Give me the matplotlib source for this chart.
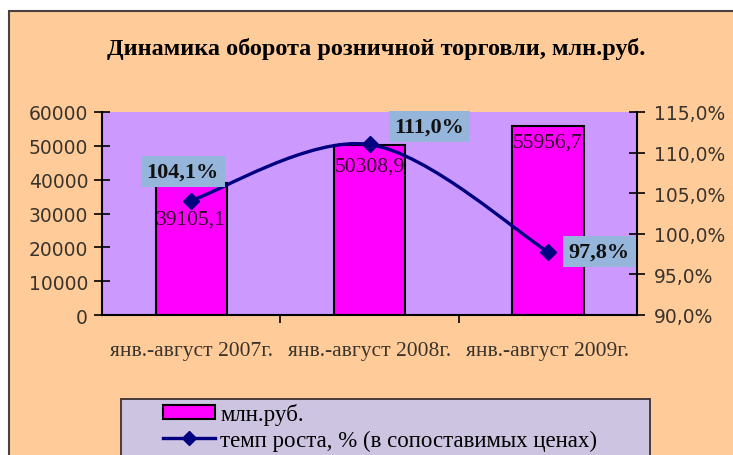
import matplotlib
matplotlib.use("Agg")
import matplotlib.pyplot as plt
from matplotlib.patches import Rectangle, PathPatch
from matplotlib.path import Path
from matplotlib.lines import Line2D
from matplotlib.ticker import FuncFormatter

# data
categories = ["янв.-август 2007г.", "янв.-август 2008г.", "янв.-август 2009г."]
turnover = [39105.1, 50308.9, 55956.7]          # млн.руб.
growth = [104.1, 111.0, 97.8]                    # темп роста, %
turnover_labels = ["39105,1", "50308,9", "55956,7"]
growth_labels = ["104,1%", "111,0%", "97,8%"]

title = "Динамика оборота розничной торговли, млн.руб."
bar_name = "млн.руб."
line_name = "темп роста, % (в сопоставимых ценах)"

# label placement (points), as in the picture
bar_label_offsets = [(0, -26), (0, -15), (0, -12)]
line_label_offsets = [(-6, 21), (43, 13), (37, 0)]

W, H = 733, 456
PEACH = "#FFCC99"
PURPLE = "#CC99FF"
MAGENTA = "#FF00FF"
NAVY = "#000080"
LBLUE = "#95B6DA"
TXT = "#3a332c"
SERIF = "Liberation Serif"


def smooth_path(xs, ys):
    """Catmull-Rom style Bezier path through the points (Excel smoothed line)."""
    pts = list(zip(xs, ys))
    verts = [pts[0]]
    codes = [Path.MOVETO]
    n = len(pts)
    for i in range(n - 1):
        p0 = pts[i - 1] if i > 0 else pts[i]
        p1 = pts[i]
        p2 = pts[i + 1]
        p3 = pts[i + 2] if i + 2 < n else pts[i + 1]
        c1 = (p1[0] + (p2[0] - p0[0]) / 6, p1[1] + (p2[1] - p0[1]) / 6)
        c2 = (p2[0] - (p3[0] - p1[0]) / 6, p2[1] - (p3[1] - p1[1]) / 6)
        verts += [c1, c2, p2]
        codes += [Path.CURVE4] * 3
    return Path(verts, codes)


fig = plt.figure(figsize=(W / 100, H / 100), dpi=100, facecolor="white")

# chart-area background with its frame, cropped on the right/bottom
fig.patches.append(Rectangle((9 / W, -0.1), 1.2, 1.1 - 12 / H, transform=fig.transFigure,
                             facecolor=PEACH, edgecolor="#4a4040", lw=1.5, zorder=-10))

fig.text(376 / W, 1 - 49 / H, title, ha="center", va="center", fontsize=17.5,
         fontweight="bold", family=SERIF, color="black")

ax = fig.add_axes([102 / W, 1 - 316 / H, 535 / W, 203 / H])
ax.set_facecolor(PURPLE)
x = list(range(len(categories)))
bars = ax.bar(x, turnover, width=0.4, color=MAGENTA, edgecolor="black", linewidth=1.5, zorder=2)
ax.set_xlim(-0.5, len(categories) - 0.5)
ax.set_ylim(0, 60000)
ax.set_yticks(range(0, 60001, 10000))
ax.tick_params(axis="y", direction="inout", length=12, width=1.2, colors="black",
               labelcolor=TXT, labelsize=13.5, pad=4)
ax.set_xticks([i + 0.5 for i in x[:-1]])
ax.set_xticklabels([])
ax.tick_params(axis="x", which="major", direction="out", length=6, width=1.2)
ax.set_xticks(x, minor=True)
ax.set_xticklabels(categories, minor=True, family=SERIF, fontsize=15.5, color=TXT)
ax.tick_params(axis="x", which="minor", length=0, pad=19)
for s in ("top", "right"):
    ax.spines[s].set_visible(False)
for s in ("left", "bottom"):
    ax.spines[s].set_linewidth(1.5)
    ax.spines[s].set_color("black")

for bar, v, lab, off in zip(bars, turnover, turnover_labels, bar_label_offsets):
    t = ax.annotate(lab, (bar.get_x() + bar.get_width() / 2, v), xytext=off,
                    textcoords="offset points", ha="center", va="center",
                    family=SERIF, fontsize=15.5, color="#2b0a26", zorder=3)
    t.set_clip_path(bar)

ax2 = ax.twinx()
ax2.set_ylim(90, 115)
ax2.set_yticks(range(90, 116, 5))
ax2.yaxis.set_major_formatter(FuncFormatter(lambda v, _: f"{v:.1f}%".replace(".", ",")))
ax2.tick_params(axis="y", direction="inout", length=12, width=1.2, colors="black",
                labelcolor=TXT, labelsize=13.5, pad=6)
for s in ("top", "left", "bottom"):
    ax2.spines[s].set_visible(False)
ax2.spines["right"].set_linewidth(1.5)
ax2.spines["right"].set_color("black")

ax2.add_patch(PathPatch(smooth_path(x, growth), fill=False, edgecolor=NAVY, lw=2.4,
                        capstyle="round", zorder=4))
ax2.plot(x, growth, linestyle="none", marker="D", markersize=8, color=NAVY, zorder=5)

for xi, v, lab, off in zip(x, growth, growth_labels, line_label_offsets):
    ax2.annotate(lab, (xi, v), xytext=off, textcoords="offset points", ha="center",
                 va="center", family=SERIF, fontsize=16, fontweight="bold", color="#111111",
                 bbox=dict(boxstyle="square,pad=0.25", facecolor=LBLUE, edgecolor="none"),
                 zorder=6)

# legend: wide lavender box, entries on the left
fig.patches.append(Rectangle((121 / W, -0.1), 529 / W, 0.1 + 1 - 400 / H,
                             transform=fig.transFigure, facecolor="#CCC4E0",
                             edgecolor="#3a3030", lw=1.3, zorder=1))
handles = [
    Rectangle((0, 0), 1, 1, facecolor=MAGENTA, edgecolor="black", lw=1.5),
    Line2D([], [], color=NAVY, lw=2.4, marker="D", markersize=7),
]
fig.legend(handles, [bar_name, line_name], loc="upper left",
           bbox_to_anchor=(163 / W, 1 - 404 / H), frameon=False, borderpad=0,
           borderaxespad=0, handlelength=2.27, handleheight=0.62, handletextpad=0.22,
           labelspacing=0.22, prop={"family": SERIF, "size": 16.5})

fig.savefig("out.png", dpi=100)
